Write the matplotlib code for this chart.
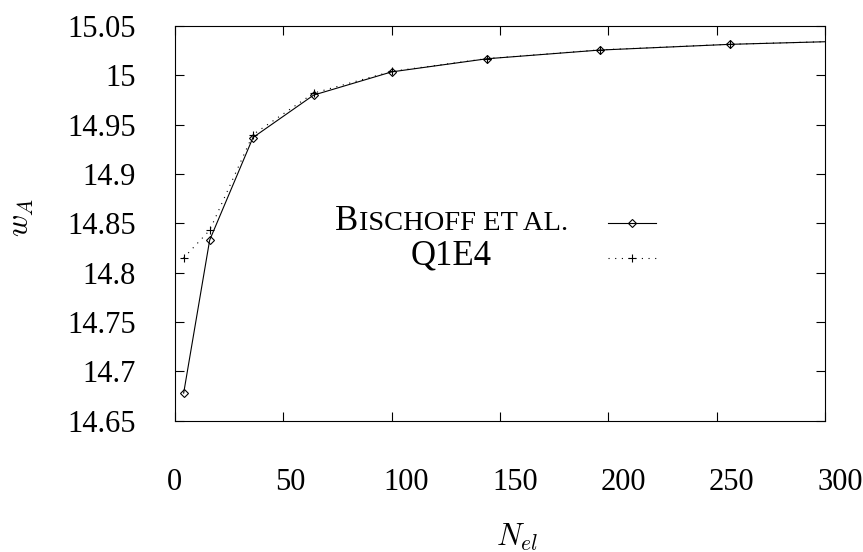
import matplotlib
matplotlib.use("Agg")
import matplotlib.pyplot as plt
import matplotlib.transforms as mtransforms
from matplotlib.offsetbox import TextArea, HPacker, AnnotationBbox
from matplotlib.lines import Line2D

plt.rcParams["font.family"] = ["Liberation Serif", "DejaVu Serif"]
plt.rcParams["mathtext.fontset"] = "cm"

# Number of elements and the resulting deflection w_A
n_el = [4, 16, 36, 64, 100, 144, 196, 256, 324]
w_bischoff = [14.678, 14.833, 14.937, 14.980, 15.0035, 15.0168, 15.0256, 15.0314, 15.0355]
w_q1e4 = [14.815, 14.843, 14.940, 14.982, 15.004, 15.017, 15.0258, 15.0315, 15.0355]

x_ticks = [0, 50, 100, 150, 200, 250, 300]
x_tick_labels = ["0", "50", "100", "150", "200", "250", "300"]
y_ticks = [14.65, 14.70, 14.75, 14.80, 14.85, 14.90, 14.95, 15.00, 15.05]
y_tick_labels = ["14.65", "14.7", "14.75", "14.8", "14.85", "14.9", "14.95", "15", "15.05"]

W, H = 863, 552
fig = plt.figure(figsize=(W / 100, H / 100), dpi=100)
ax = fig.add_axes([175 / W, (H - 420.7) / H, 650 / W, 394.7 / H])

solid = dict(color="black", lw=0.8, marker="D", ms=4.4, mfc="none",
             mec="black", mew=0.8)
dotted = dict(color="black", lw=0.8, ls=(0, (1, 5)), marker="+", ms=5.5,
              mew=0.8)

ax.plot(n_el, w_bischoff, **solid)
ax.plot(n_el, w_q1e4, **dotted)

ax.set_xlim(0, 300)
ax.set_ylim(14.65, 15.05)
ax.set_xticks(x_ticks)
ax.set_xticklabels(x_tick_labels)
ax.set_yticks(y_ticks)
ax.set_yticklabels(y_tick_labels)

for s in ax.spines.values():
    s.set_linewidth(0.8)
ax.tick_params(axis="both", direction="in", length=6.5, width=0.8,
               top=True, right=True, labelsize=22, colors="black")
ax.tick_params(axis="y", pad=28)
ax.tick_params(axis="x", pad=34)

# x tick labels start just left of their tick
shift = mtransforms.ScaledTranslation(-0.08, 0, fig.dpi_scale_trans)
for lbl in ax.get_xticklabels():
    lbl.set_horizontalalignment("left")
    lbl.set_transform(lbl.get_transform() + shift)

ax.set_xlabel(r"$N_{el}$", fontsize=22)
ax.xaxis.set_label_coords((517 - 175) / 650, (420.7 - 522) / 394.7)
ax.set_ylabel(r"$w_A$", fontsize=22)
ax.yaxis.set_label_coords((36 - 175) / 650, (420.7 - 217) / 394.7)

# Key: centred names with small-caps first entry, samples to the right
name1 = HPacker(children=[TextArea("B", textprops=dict(size=25)),
                          TextArea("ISCHOFF ET AL.", textprops=dict(size=20.5))],
                align="baseline", pad=0, sep=0)
ab = AnnotationBbox(name1, (0.4255, 0.505), xycoords="axes fraction",
                    box_alignment=(0.5, 0.5), frameon=False, pad=0)
ax.add_artist(ab)
ax.text(0.4255, 0.3945, "Q1E4", transform=ax.transAxes, ha="center",
        va="baseline", fontsize=25)

x0, xm, x1 = 0.666, 0.7035, 0.740
ax.add_line(Line2D([x0, xm, x1], [0.5001] * 3, transform=ax.transAxes,
                   markevery=[1], **solid))
ax.add_line(Line2D([x0, xm, x1], [0.4122] * 3, transform=ax.transAxes,
                   markevery=[1], **dotted))

fig.savefig("out.png", dpi=100)
